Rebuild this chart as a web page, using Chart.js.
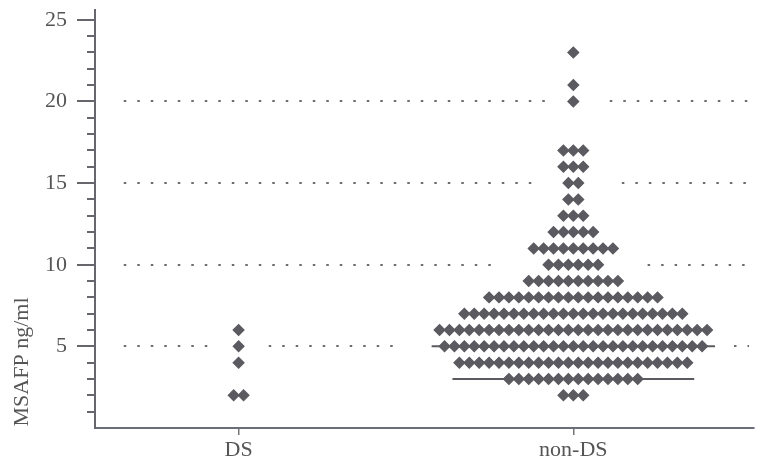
<!DOCTYPE html>
<html><head>
<script src="https://cdn.jsdelivr.net/npm/chart.js"></script>
<style>html,body{margin:0;padding:0;background:#fff}</style>
</head><body>
<canvas id="myChart" width="760" height="466"></canvas>
<script>
// data
const categories = ['DS', 'non-DS'];
const dsLevels = [6, 5, 4, 2];
const dsCounts = [1, 1, 1, 2];
const nonDsLevels = [23, 21, 20, 17, 16, 15, 14, 13, 12, 11, 10, 9, 8, 7, 6, 5, 4, 3, 2];
const nonDsCounts = [1, 1, 1, 3, 3, 2, 2, 3, 5, 9, 6, 10, 18, 23, 28, 27, 24, 14, 3];
const markerLevels = [5, 3];
const yTickValues = [5, 10, 15, 20, 25];
const refLevels = [5, 10, 15, 20];

// layout, x in category units (0 = DS, 1 = non-DS)
const STEP = 0.0296;
const markerHalf = [14.3, 12.2]; // half length of the bars, in dot steps
const refStart = -0.343, refEnd = 1.525;
const refGaps = {
  5: [[-0.09, 0.09], [0.47, 1.48]],
  10: [[0.754, 1.222]],
  15: [[0.879, 1.145]],
  20: [[0.917, 1.109]]
};
const ink = '#5a5a60';
const serif = 'Liberation Serif';

function swarm(cat, levels, counts) {
  const pts = [];
  levels.forEach((v, i) => {
    const n = counts[i];
    for (let j = 0; j < n; j++) pts.push({ x: cat + (j - (n - 1) / 2) * STEP, y: v });
  });
  return pts;
}

const markerSets = markerLevels.map((v, i) => ({
  type: 'line',
  data: [{ x: 1 - markerHalf[i] * STEP, y: v }, { x: 1 + markerHalf[i] * STEP, y: v }],
  borderColor: ink,
  borderWidth: 2,
  pointRadius: 0,
  order: 2
}));

function noPad(s) {
  s.paddingTop = 0; s.paddingBottom = 0; s.paddingLeft = 0; s.paddingRight = 0;
}

// dotted reference lines with breaks, y-axis tick marks, y title
const extras = {
  id: 'extras',
  beforeDatasetsDraw(chart) {
    const { ctx, scales: { x, y } } = chart;
    ctx.save();
    ctx.strokeStyle = '#6c6c72';
    ctx.lineWidth = 2;
    ctx.setLineDash([2.5, 11]);
    refLevels.forEach(v => {
      const py = Math.round(y.getPixelForValue(v));
      let segs = [[refStart, refEnd]];
      (refGaps[v] || []).forEach(([a, b]) => {
        const out = [];
        segs.forEach(([s, e]) => {
          if (b <= s || a >= e) { out.push([s, e]); return; }
          if (a > s) out.push([s, a]);
          if (b < e) out.push([b, e]);
        });
        segs = out;
      });
      segs.forEach(([s, e]) => {
        ctx.beginPath();
        ctx.moveTo(x.getPixelForValue(s), py);
        ctx.lineTo(x.getPixelForValue(e), py);
        ctx.stroke();
      });
    });
    ctx.restore();
  },
  afterDraw(chart) {
    const { ctx, chartArea, scales: { y } } = chart;
    ctx.save();
    ctx.strokeStyle = '#66666c';
    ctx.lineWidth = 2;
    for (let v = 1; v <= 25; v++) {
      const py = Math.round(y.getPixelForValue(v));
      const len = v % 5 === 0 ? 18 : 8;
      ctx.beginPath();
      ctx.moveTo(chartArea.left - len, py);
      ctx.lineTo(chartArea.left, py);
      ctx.stroke();
    }
    ctx.translate(22, chartArea.bottom - 66);
    ctx.rotate(-Math.PI / 2);
    ctx.fillStyle = '#555';
    ctx.font = '22px "' + serif + '"';
    ctx.textAlign = 'center';
    ctx.textBaseline = 'middle';
    ctx.fillText('MSAFP ng/ml', 0, 0);
    ctx.restore();
  }
};

const dotStyle = {
  backgroundColor: ink,
  borderColor: ink,
  borderWidth: 1.2,
  pointStyle: 'rectRot',
  pointRadius: 5.4,
  order: 1
};

const canvas = document.getElementById('myChart');
new Chart(canvas, {
  type: 'scatter',
  data: {
    datasets: [
      { label: categories[0], data: swarm(0, dsLevels, dsCounts), ...dotStyle },
      { label: categories[1], data: swarm(1, nonDsLevels, nonDsCounts), ...dotStyle },
      ...markerSets
    ]
  },
  options: {
    responsive: false,
    animation: false,
    devicePixelRatio: 1,
    layout: { padding: { top: 10, right: 0, left: 0, bottom: 0 } },
    plugins: { legend: { display: false }, tooltip: { enabled: false } },
    scales: {
      x: {
        type: 'linear',
        min: -0.429,
        max: 1.538,
        afterBuildTicks: s => { s.ticks = [{ value: 0 }, { value: 1 }]; },
        afterFit: s => { s.height = 38; noPad(s); },
        ticks: {
          callback: v => categories[v],
          color: '#555',
          font: { family: serif, size: 22 },
          padding: 2,
          maxRotation: 0
        },
        grid: { drawOnChartArea: false, drawTicks: true, tickLength: 7, color: '#777', lineWidth: 1.5 },
        border: { display: true, color: '#6a6e78', width: 2 }
      },
      y: {
        min: 0,
        max: 25.6,
        afterBuildTicks: s => { s.ticks = yTickValues.map(v => ({ value: v })); },
        afterFit: s => { s.width = 95; noPad(s); },
        ticks: {
          color: '#555',
          font: { family: serif, size: 22 },
          padding: 28
        },
        grid: { drawOnChartArea: false, drawTicks: false },
        border: { display: true, color: '#66666c', width: 2 }
      }
    }
  },
  plugins: [extras]
});
</script>
</body></html>
